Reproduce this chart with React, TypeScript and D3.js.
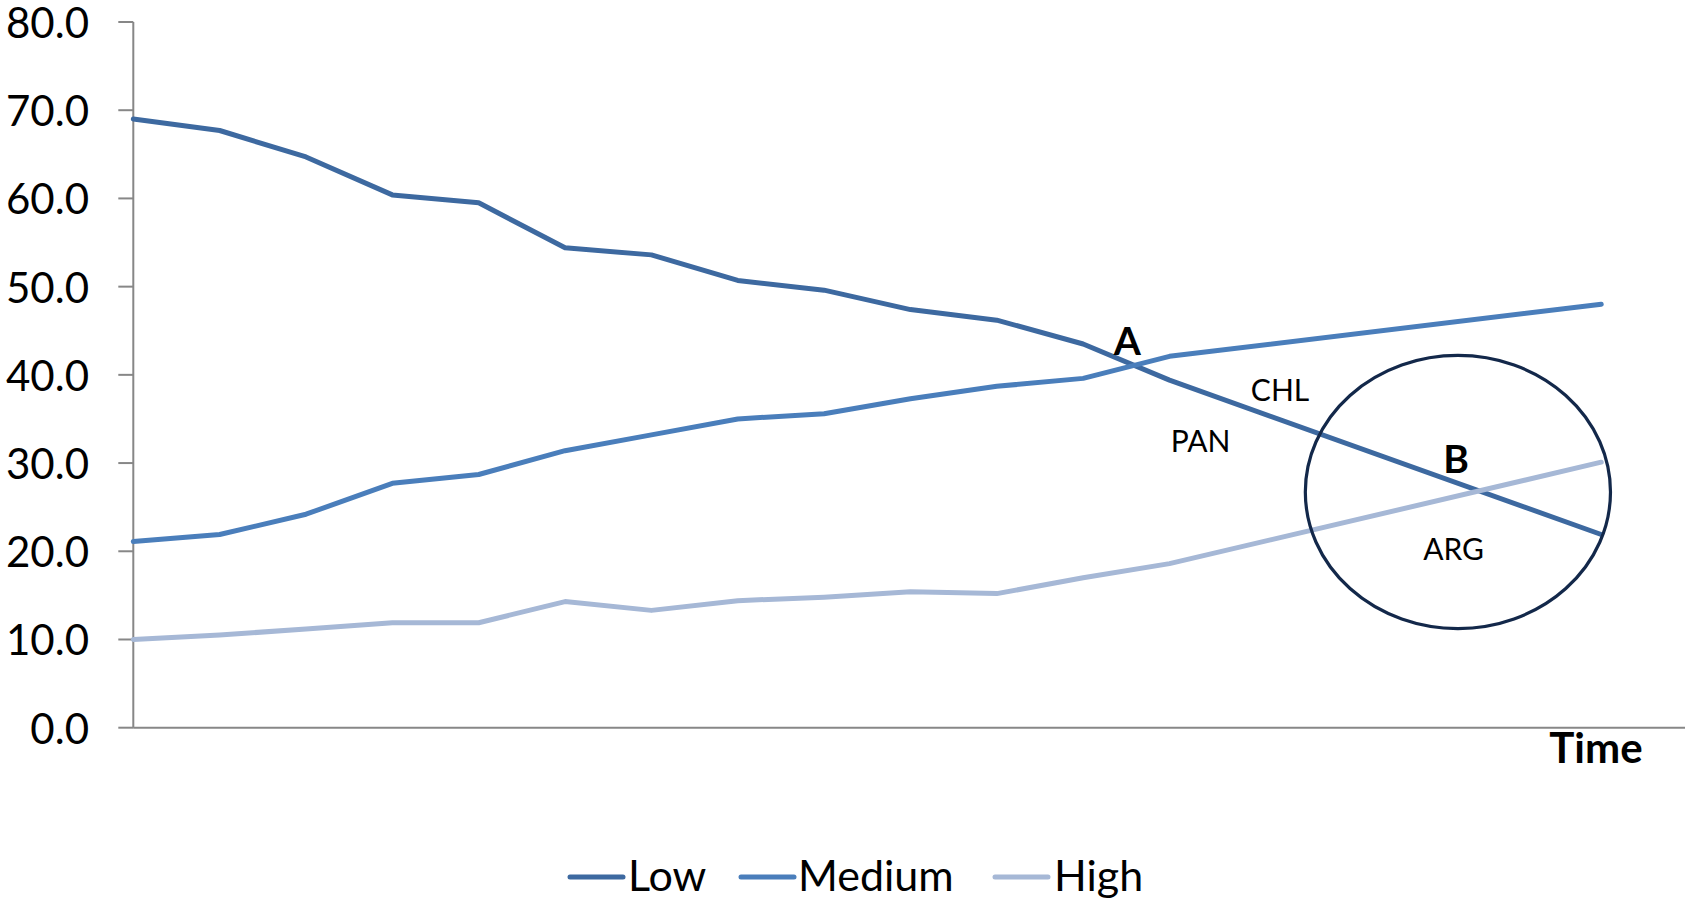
import React from "react";
import * as d3 from "d3";

const timeIndex = [0, 1, 2, 3, 4, 5, 6, 7, 8, 9, 10, 11, 12, 17];
const lowValues = [69.0, 67.7, 64.7, 60.4, 59.5, 54.4, 53.6, 50.7, 49.6, 47.4, 46.2, 43.5, 39.4, 21.9];
const mediumValues = [21.1, 21.9, 24.2, 27.7, 28.7, 31.4, 33.2, 35.0, 35.6, 37.3, 38.7, 39.6, 42.1, 48.0];
const highValues = [10.0, 10.5, 11.2, 11.9, 11.9, 14.3, 13.3, 14.4, 14.8, 15.4, 15.2, 17.0, 18.6, 30.1];
const yTicks = [0, 10, 20, 30, 40, 50, 60, 70, 80];
const seriesNames = ["Low", "Medium", "High"];
const seriesColors = ["#3d69a0", "#4a7ebb", "#a6b8d6"];

const annotations = [
  { text: "A", t: 11.51, v: 42.26, bold: true, size: 39 },
  { text: "CHL", t: 13.28, v: 37.07, bold: false, size: 30 },
  { text: "PAN", t: 12.36, v: 31.29, bold: false, size: 30 },
  { text: "B", t: 15.32, v: 28.84, bold: true, size: 39 },
  { text: "ARG", t: 15.29, v: 19.01, bold: false, size: 30 },
];
const circleCenter = { t: 15.34, v: 26.72, rt: 1.767, rv: 15.48 };

const W = 1685;
const H = 900;
const FONT = "Lato, 'Open Sans', sans-serif";

export default function App() {
  const x = d3.scaleLinear().domain([0, 18]).range([133.3, 1687.6]);
  const y = d3.scaleLinear().domain([0, 80]).range([727.7, 22]);
  const series = [lowValues, mediumValues, highValues];
  const line = d3
    .line<number>()
    .x((_, i) => x(timeIndex[i]))
    .y((d) => y(d));

  const legendItems = [
    { lx: 570, tx: 628 },
    { lx: 741, tx: 798 },
    { lx: 995, tx: 1054 },
  ];

  const cx = x(circleCenter.t);
  const cy = y(circleCenter.v);
  const rx = x(circleCenter.t + circleCenter.rt) - cx;
  const ry = cy - y(circleCenter.v + circleCenter.rv);

  return (
    <div style={{ position: "absolute", left: 0, top: 0 }}>
      <svg width={W} height={H} style={{ display: "block", background: "#fff" }}>
        <line x1={x(0)} x2={x(0)} y1={y(80)} y2={y(0)} stroke="#878787" strokeWidth={2} />
        <line x1={x(0)} x2={W} y1={y(0)} y2={y(0)} stroke="#878787" strokeWidth={2} />
        {yTicks.map((t) => (
          <g key={t}>
            <line x1={x(0) - 15} x2={x(0)} y1={y(t)} y2={y(t)} stroke="#878787" strokeWidth={2} />
            <text
              x={89}
              y={y(t)}
              textAnchor="end"
              dominantBaseline="central"
              fontFamily={FONT}
              fontSize={42}
              fill="#000"
            >
              {t.toFixed(1)}
            </text>
          </g>
        ))}
        <text x={1596} y={763} textAnchor="middle" fontFamily={FONT} fontWeight="bold" fontSize={42}>
          Time
        </text>

        {series.map((s, i) => (
          <path
            key={seriesNames[i]}
            d={line(s) || ""}
            fill="none"
            stroke={seriesColors[i]}
            strokeWidth={5}
            strokeLinejoin="round"
            strokeLinecap="round"
          />
        ))}

        <ellipse cx={cx} cy={cy} rx={rx} ry={ry} fill="none" stroke="#13284a" strokeWidth={3.2} />

        {annotations.map((a) => (
          <text
            key={a.text}
            x={x(a.t)}
            y={y(a.v)}
            textAnchor="middle"
            fontFamily={FONT}
            fontWeight={a.bold ? "bold" : "normal"}
            fontSize={a.size}
            fill="#000"
          >
            {a.text}
          </text>
        ))}

        {seriesNames.map((n, i) => (
          <g key={n}>
            <line
              x1={legendItems[i].lx}
              x2={legendItems[i].lx + 53}
              y1={877}
              y2={877}
              stroke={seriesColors[i]}
              strokeWidth={5}
              strokeLinecap="round"
            />
            <text x={legendItems[i].tx} y={891} fontFamily={FONT} fontSize={43} fill="#000">
              {n}
            </text>
          </g>
        ))}
      </svg>
    </div>
  );
}
